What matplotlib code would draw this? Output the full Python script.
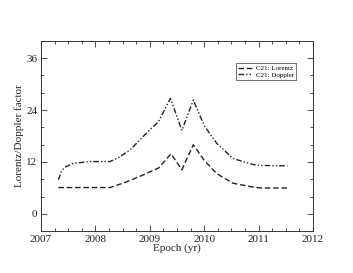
import matplotlib
matplotlib.use("Agg")
import matplotlib.pyplot as plt
from matplotlib.ticker import MultipleLocator

epoch_lorentz = [2007.32, 2007.6, 2008.0, 2008.27, 2008.55, 2008.82, 2009.0, 2009.16, 2009.39, 2009.59, 2009.80,
                 2010.0, 2010.23, 2010.53, 2010.9, 2011.05, 2011.53]
lorentz = [6.1, 6.1, 6.1, 6.1, 7.3, 8.7, 9.7, 10.6, 13.9, 10.2, 16.0,
           12.4, 9.3, 7.1, 6.2, 6.0, 6.0]

epoch_doppler = [2007.32, 2007.38, 2007.44, 2007.6, 2007.9, 2008.27, 2008.45, 2008.64, 2008.94, 2009.16, 2009.38,
                 2009.59, 2009.80, 2010.0, 2010.23, 2010.53, 2010.9, 2011.05, 2011.53]
doppler = [7.9, 10.0, 10.8, 11.7, 12.1, 12.1, 13.2, 14.8, 18.7, 21.3, 26.7,
           19.3, 26.3, 20.4, 16.3, 12.8, 11.4, 11.2, 11.1]

plt.rcParams['font.family'] = ['Liberation Serif', 'DejaVu Serif']
fig = plt.figure(figsize=(3.53, 2.73), dpi=100)
ax = fig.add_axes([41/353, 1-231.3/273, (313-41)/353, (231.3-40.7)/273])

ax.plot(epoch_lorentz, lorentz, color='#222222', lw=1.0, ls=(0, (4, 2)), label='C21: Lorentz')
ax.plot(epoch_doppler, doppler, color='#222222', lw=1.0, ls=(0, (4, 1.5, 1, 1.5, 1, 1.5)), label='C21: Doppler')

ax.set_xlim(2007, 2012)
ax.set_ylim(-4, 40)
ax.set_yticks([0, 12, 24, 36])
ax.set_xticks([2007, 2008, 2009, 2010, 2011, 2012])
ax.xaxis.set_minor_locator(MultipleLocator(0.25))
ax.yaxis.set_minor_locator(MultipleLocator(4))
ax.tick_params(which='both', direction='in', top=True, right=True, labelsize=8, width=0.6, colors='#333333',
               labelcolor='#222222')
ax.tick_params(which='major', length=4, pad=2.5)
ax.tick_params(which='minor', length=2)
for s in ax.spines.values():
    s.set_linewidth(0.7)
    s.set_color('#333333')
ax.set_xlabel('Epoch (yr)', fontsize=8, labelpad=0, color='#222222')
ax.set_ylabel('Lorentz/Doppler factor', fontsize=8, labelpad=2, color='#222222')

leg = ax.legend(loc='upper right', bbox_to_anchor=(0.9375, 0.881), borderaxespad=0, fontsize=5, frameon=True,
                fancybox=False, edgecolor='#333333', handlelength=2.0, borderpad=0.3, labelspacing=0.1,
                handletextpad=0.5)
leg.get_frame().set_linewidth(0.6)

fig.savefig('out.png', dpi=100)
